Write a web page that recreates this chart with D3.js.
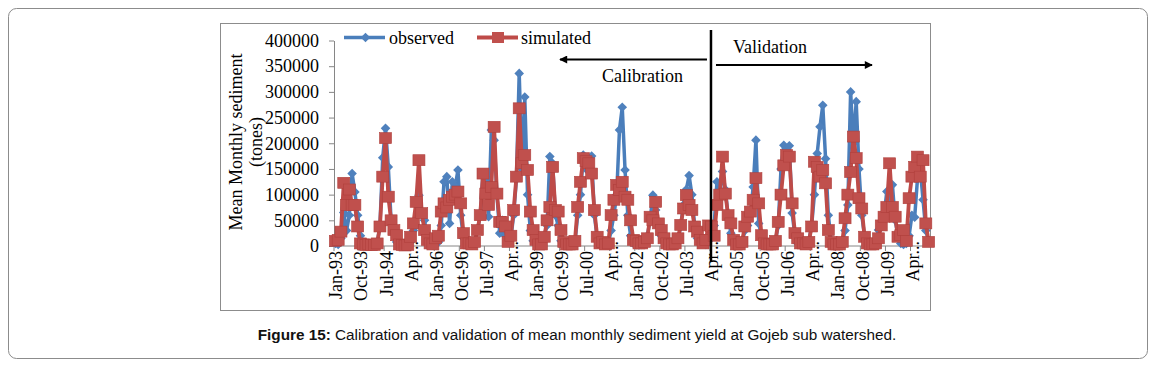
<!DOCTYPE html>
<html>
<head>
<meta charset="utf-8">
<script src="https://cdn.jsdelivr.net/npm/d3@7"></script>
<style>
  html, body { margin: 0; padding: 0; background: #fff; }
  svg { display: block; }
</style>
</head>
<body>
<div id="chart"></div>
<script>
// monthly sediment yield (tonnes), Jan-93 .. Oct-10, one row per year
const observed = [
  5000, 3000, 15000, 65000, 30000, 60000, 141000, 105000, 60000, 20000, 5000, 2000,
  2000, 1000, 2000, 5000, 40000, 172000, 229000, 154000, 50000, 25000, 8000, 3000,
  1000, 1000, 2000, 8000, 30000, 40000, 99000, 67000, 50000, 15000, 5000, 2000,
  3000, 8000, 40000, 125000, 135000, 44000, 125000, 115000, 148000, 60000, 15000, 4000,
  3000, 2000, 5000, 30000, 60000, 141000, 130000, 57000, 226000, 206000, 100000, 25000,
  50000, 20000, 10000, 15000, 60000, 130000, 336000, 150000, 290000, 100000, 30000, 10000,
  5000, 3000, 5000, 20000, 40000, 174000, 161000, 60000, 40000, 10000, 5000, 2000,
  2000, 2000, 5000, 60000, 100000, 177000, 150000, 160000, 175000, 60000, 15000, 3000,
  5000, 3000, 5000, 30000, 60000, 100000, 226000, 270000, 148000, 60000, 20000, 5000,
  3000, 2000, 3000, 5000, 20000, 50000, 99000, 70000, 40000, 20000, 8000, 3000,
  2000, 2000, 3000, 10000, 40000, 80000, 110000, 137000, 100000, 40000, 15000, 5000,
  5000, 3000, 10000, 20000, 40000, 125000, 100000, 145000, 110000, 60000, 25000, 8000,
  3000, 2000, 5000, 30000, 40000, 60000, 115000, 206000, 44000, 20000, 5000, 2000,
  2000, 3000, 10000, 40000, 150000, 196000, 190000, 195000, 64000, 20000, 5000, 3000,
  3000, 3000, 10000, 40000, 100000, 180000, 232000, 274000, 170000, 60000, 10000, 3000,
  2000, 2000, 5000, 30000, 80000, 300000, 200000, 281000, 150000, 60000, 20000, 5000,
  2000, 2000, 5000, 31000, 40000, 60000, 106000, 90000, 119000, 50000, 20000, 5000,
  3000, 5000, 20000, 60000, 56000, 130000, 150000, 90000, 30000, 10000
];

const simulated = [
  10000, 12000, 28000, 123000, 80000, 110000, 80000, 80000, 38000, 5000, 3000, 2000,
  3000, 2000, 2000, 5000, 38000, 135000, 210000, 96000, 50000, 31000, 21000, 3000,
  2000, 1000, 2000, 18000, 44000, 86000, 167000, 64000, 31000, 12000, 5000, 3000,
  15000, 20000, 67000, 83000, 75000, 90000, 96000, 100000, 106000, 83000, 25000, 5000,
  5000, 3000, 8000, 31000, 60000, 141000, 102000, 80000, 115000, 232000, 102000, 47000,
  47000, 38000, 8000, 20000, 70000, 135000, 268000, 161000, 177000, 148000, 67000, 31000,
  12000, 3000, 3000, 18000, 50000, 76000, 154000, 70000, 67000, 31000, 8000, 3000,
  3000, 3000, 10000, 76000, 125000, 171000, 165000, 161000, 141000, 70000, 18000, 5000,
  8000, 3000, 5000, 60000, 90000, 119000, 109000, 125000, 96000, 90000, 50000, 12000,
  10000, 5000, 5000, 8000, 15000, 57000, 50000, 86000, 44000, 31000, 15000, 5000,
  3000, 3000, 5000, 15000, 41000, 73000, 99000, 80000, 70000, 38000, 28000, 12000,
  5000, 12000, 40000, 38000, 20000, 80000, 100000, 174000, 102000, 60000, 44000, 12000,
  3000, 3000, 8000, 38000, 57000, 67000, 90000, 132000, 83000, 21000, 5000, 3000,
  3000, 3000, 10000, 47000, 100000, 157000, 177000, 174000, 83000, 25000, 15000, 5000,
  5000, 3000, 8000, 38000, 164000, 154000, 135000, 148000, 122000, 31000, 8000, 3000,
  3000, 3000, 8000, 54000, 100000, 144000, 213000, 171000, 93000, 73000, 18000, 5000,
  3000, 3000, 5000, 15000, 40000, 57000, 76000, 161000, 76000, 57000, 18000, 21000,
  31000, 10000, 93000, 135000, 154000, 174000, 135000, 167000, 44000, 8000
];

const months = d3.timeMonth.range(new Date(1993, 0, 1), new Date(2010, 10, 1));
const tickLabels = ["Jan-93", "Oct-93", "Jul-94", "Apr...", "Jan-96", "Oct-96", "Jul-97", "Apr...",
  "Jan-99", "Oct-99", "Jul-00", "Apr...", "Jan-02", "Oct-02", "Jul-03", "Apr...",
  "Jan-05", "Oct-05", "Jul-06", "Apr...", "Jan-08", "Oct-08", "Jul-09", "Apr..."];
const yTicks = [0, 50000, 100000, 150000, 200000, 250000, 300000, 350000, 400000];
const splitMonth = new Date(2004, 3, 1); // calibration | validation

const blue = "#4A7EBB", red = "#BE4B48";
const serif = "'Liberation Serif', 'Times New Roman', serif";

const svg = d3.select("#chart").append("svg").attr("width", 1154).attr("height", 365);

// frames
svg.append("rect").attr("x", 8.5).attr("y", 8.5).attr("width", 1139).attr("height", 350)
  .attr("rx", 8).attr("fill", "#fff").attr("stroke", "#8c8c8c");
svg.append("rect").attr("x", 220.5).attr("y", 23.5).attr("width", 710).attr("height", 287)
  .attr("fill", "none").attr("stroke", "#8c8c8c");

const x = d3.scaleBand().domain(d3.range(months.length)).range([334, 930]).padding(0);
const cx = i => x(i) + x.bandwidth() / 2;
const y = d3.scaleLinear().domain([0, 400000]).range([246, 40.5]);

// y axis
const yAxis = svg.append("g").attr("transform", "translate(334,0)")
  .call(d3.axisLeft(y).tickValues(yTicks).tickSize(5).tickSizeOuter(0).tickPadding(10).tickFormat(d3.format("d")));
yAxis.select(".domain").attr("stroke", "#868686");
yAxis.selectAll(".tick line").attr("stroke", "#868686");
yAxis.selectAll("text").attr("font-family", serif).attr("font-size", 18).attr("fill", "#000");

// x axis line + ticks
svg.append("line").attr("x1", 334).attr("x2", 930).attr("y1", 246).attr("y2", 246).attr("stroke", "#868686");
const tickIdx = tickLabels.map((d, k) => k * 9);
svg.selectAll(".xtick").data(tickIdx).join("line").attr("class", "xtick")
  .attr("x1", d => x(d)).attr("x2", d => x(d)).attr("y1", 246).attr("y2", 251).attr("stroke", "#868686");

// y title
const yt = svg.append("text").attr("font-family", serif).attr("font-size", 18).attr("text-anchor", "middle")
  .attr("transform", "translate(242,142) rotate(-90)");
yt.append("tspan").attr("x", 0).attr("dy", 0).text("Mean Monthly sediment");
yt.append("tspan").attr("x", 0).attr("dy", 20).text("(tones)");

// series
const line = d3.line().x((d, i) => cx(i)).y(d => y(d));
svg.append("path").datum(observed).attr("d", line).attr("fill", "none")
  .attr("stroke", blue).attr("stroke-width", 3.5).attr("stroke-linejoin", "round");
svg.selectAll(".obs").data(observed).join("path").attr("class", "obs")
  .attr("d", "M0,-4.8L4.8,0L0,4.8L-4.8,0Z")
  .attr("transform", (d, i) => `translate(${cx(i)},${y(d)})`)
  .attr("fill", "#4F81BD");

svg.append("path").datum(simulated).attr("d", line).attr("fill", "none")
  .attr("stroke", red).attr("stroke-width", 3.8).attr("stroke-linejoin", "round");
svg.selectAll(".sim").data(simulated).join("rect").attr("class", "sim")
  .attr("x", (d, i) => cx(i) - 6).attr("y", d => y(d) - 5.5).attr("width", 12).attr("height", 11)
  .attr("fill", "#C0504D").attr("stroke", "#B0403D").attr("stroke-width", 0.6);

// x tick labels
svg.selectAll(".xlab").data(tickLabels).join("text").attr("class", "xlab")
  .attr("transform", (d, k) => `translate(${cx(tickIdx[k]) + 1},${d.endsWith("...") ? 241 : 251}) rotate(-90)`)
  .attr("text-anchor", "end").attr("dominant-baseline", "central")
  .attr("font-family", serif).attr("font-size", 18).text(d => d);

// calibration / validation split
const sx = x(months.findIndex(m => +m === +splitMonth)) + 1;
svg.append("line").attr("x1", sx).attr("x2", sx).attr("y1", 30).attr("y2", 262)
  .attr("stroke", "#000").attr("stroke-width", 2.5);
svg.append("defs").append("marker").attr("id", "ah").attr("viewBox", "0 0 10 10")
  .attr("refX", 9).attr("refY", 5).attr("markerWidth", 5).attr("markerHeight", 4)
  .attr("orient", "auto-start-reverse").attr("markerUnits", "strokeWidth")
  .append("path").attr("d", "M0,0L10,5L0,10Z").attr("fill", "#000");
svg.append("line").attr("x1", sx - 4).attr("x2", 560).attr("y1", 59.5).attr("y2", 59.5)
  .attr("stroke", "#000").attr("stroke-width", 2).attr("marker-end", "url(#ah)");
svg.append("line").attr("x1", sx + 5).attr("x2", 872).attr("y1", 65).attr("y2", 65)
  .attr("stroke", "#000").attr("stroke-width", 2).attr("marker-end", "url(#ah)");
svg.append("text").attr("x", 602).attr("y", 82).attr("font-family", serif).attr("font-size", 18).text("Calibration");
svg.append("text").attr("x", 733).attr("y", 53).attr("font-family", serif).attr("font-size", 18).text("Validation");

// legend
const lg = svg.append("g");
lg.append("line").attr("x1", 344).attr("x2", 385).attr("y1", 37.5).attr("y2", 37.5).attr("stroke", blue).attr("stroke-width", 3.5);
lg.append("path").attr("d", "M0,-4.8L4.8,0L0,4.8L-4.8,0Z").attr("transform", "translate(365.5,37.5)").attr("fill", "#4F81BD");
lg.append("text").attr("x", 389).attr("y", 43.5).attr("font-family", serif).attr("font-size", 18).text("observed");
lg.append("line").attr("x1", 477).attr("x2", 518).attr("y1", 37.5).attr("y2", 37.5).attr("stroke", red).attr("stroke-width", 3.8);
lg.append("rect").attr("x", 492).attr("y", 32).attr("width", 12).attr("height", 11).attr("fill", "#C0504D");
lg.append("text").attr("x", 521).attr("y", 43.5).attr("font-family", serif).attr("font-size", 18).text("simulated");

// caption
const cap = svg.append("text").attr("x", 577).attr("y", 340).attr("text-anchor", "middle")
  .attr("font-family", "'Liberation Sans', Arial, sans-serif").attr("font-size", 15.3).attr("fill", "#111");
cap.append("tspan").attr("font-weight", "bold").text("Figure 15:");
cap.append("tspan").text(" Calibration and validation of mean monthly sediment yield at Gojeb sub watershed.");
</script>
</body>
</html>
